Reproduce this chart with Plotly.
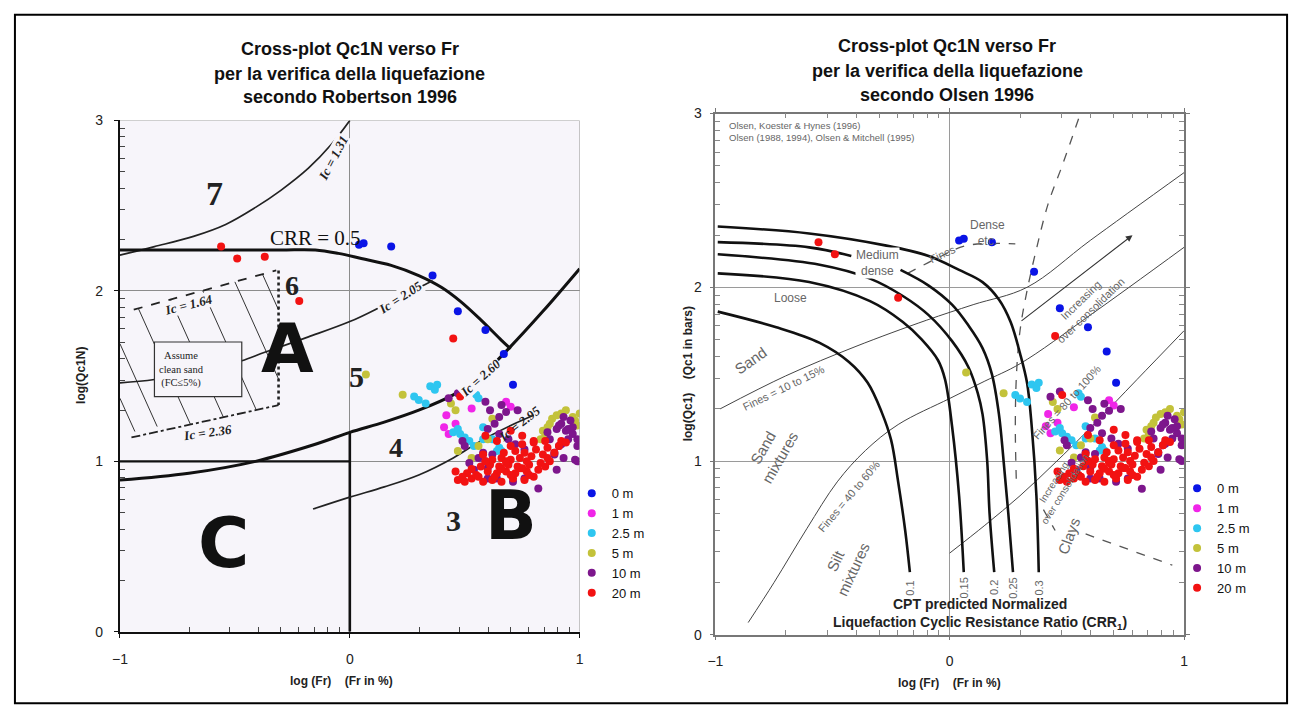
import numpy as np
import plotly.graph_objects as go

W, H = 1298, 718
SANS = "Liberation Sans, Arial, sans-serif"
SERIF = "Liberation Serif, Times New Roman, serif"

# ---------------- measured points (log Fr , log Qc1N), same set on both panels ----------------
series_names = ["0 m", "1 m", "2.5 m", "5 m", "10 m", "20 m"]
series_colors = ["#0a14e6", "#f025e8", "#2ec6f0", "#c3c23a", "#7d168c", "#f21212"]

x_0m = [0.04, 0.06, 0.18, 0.36, 0.47, 0.59, 0.67, 0.71]
y_0m = [2.27, 2.28, 2.26, 2.09, 1.88, 1.77, 1.63, 1.45]

x_1m = [0.42, 0.53, 0.43, 0.41, 0.70, 0.68, 0.46]
y_1m = [1.27, 1.31, 1.16, 1.20, 1.32, 1.35, 1.22]

x_25m = [0.28, 0.30, 0.33, 0.35, 0.37, 0.38, 0.45, 0.47, 0.48, 0.50, 0.52, 0.54, 0.55, 0.56, 0.58, 0.58, 0.62, 0.64, 0.65, 0.66]
y_25m = [1.38, 1.36, 1.34, 1.44, 1.42, 1.45, 1.17, 1.19, 1.16, 1.14, 1.12, 1.09, 1.39, 1.37, 1.20, 1.13, 1.13, 1.06, 1.08, 1.06]

x_5m = [0.07, 0.23, 0.44, 0.46, 0.47, 0.53, 0.56, 0.60, 0.62, 0.83, 0.84, 0.85, 0.86, 0.87, 0.88, 0.90, 0.92, 0.97, 0.98, 0.99, 1.00, 0.94]
y_5m = [1.51, 1.39, 1.34, 1.30, 1.06, 1.02, 1.09, 1.13, 1.25, 1.13, 1.18, 1.15, 1.20, 1.22, 1.25, 1.27, 1.28, 1.26, 1.24, 1.21, 1.28, 1.30]

x_10m = [0.43, 0.47, 0.59, 0.61, 0.66, 0.68, 0.73, 0.65, 0.63, 0.60, 0.65, 0.69, 0.72, 0.76,
         0.58, 0.56, 0.52, 0.59, 0.62, 0.49, 0.50, 0.54, 0.60, 0.64, 0.71, 0.76, 0.82, 0.60,
         0.86, 0.87, 0.89, 0.90, 0.91, 0.92, 0.93, 0.94, 0.95, 0.96, 0.97, 0.99, 0.99,
         0.99, 0.95, 0.91, 0.89, 0.93, 0.98, 0.92, 0.90, 0.97]
y_10m = [1.37, 1.40, 1.35, 1.30, 1.33, 1.29, 1.30, 1.26, 1.22, 1.19, 1.16, 1.13, 1.10, 1.07,
         1.05, 1.02, 0.99, 1.00, 1.04, 1.12, 1.09, 0.95, 0.90, 0.90, 0.88, 0.90, 0.84, 0.96,
         1.17, 1.13, 1.05, 1.19, 1.09, 1.22, 1.26, 1.18, 1.19, 1.24, 1.16, 1.13, 1.09,
         1.00, 1.13, 1.21, 1.04, 1.02, 1.01, 1.10, 0.95, 1.20]

x_20m = [-0.56, -0.49, -0.37, -0.22, 0.45, 0.48,
         0.47, 0.50, 0.53, 0.58, 0.62, 0.66, 0.71, 0.76, 0.80,
         0.46, 0.51, 0.55, 0.60, 0.64, 0.68, 0.72, 0.77, 0.82,
         0.57, 0.61, 0.65, 0.69, 0.73, 0.78, 0.83, 0.87,
         0.62, 0.66, 0.70, 0.74, 0.79, 0.84, 0.89,
         0.67, 0.72, 0.76, 0.81, 0.86, 0.91,
         0.70, 0.75, 0.80, 0.85, 0.92,
         0.59, 0.64, 0.70, 0.75, 0.80, 0.94, 0.58, 0.68, 0.74,
         0.49, 0.56, 0.63, 0.70, 0.78, 0.53, 0.66, 0.75, 0.85, 0.59, 0.68, 0.77, 0.86]
y_20m = [2.26, 2.19, 2.20, 1.94, 1.72, 1.38,
         0.89, 0.88, 0.90, 0.88, 0.89, 0.88, 0.90, 0.89, 0.91,
         0.94, 0.93, 0.92, 0.94, 0.93, 0.94, 0.93, 0.94, 0.95,
         0.97, 0.98, 0.97, 0.98, 0.97, 0.98, 0.99, 1.00,
         1.01, 1.02, 1.01, 1.02, 1.03, 1.04, 1.05,
         1.05, 1.06, 1.05, 1.07, 1.08, 1.09,
         1.09, 1.10, 1.11, 1.12, 1.12,
         1.15, 1.12, 1.18, 1.15, 1.12, 1.11, 1.04, 1.00, 0.96,
         0.91, 0.91, 0.91, 0.92, 0.92, 0.955, 0.955, 0.96, 0.97, 1.00, 0.99, 1.00, 1.02]

series_x = [x_0m, x_1m, x_25m, x_5m, x_10m, x_20m]
series_y = [y_0m, y_1m, y_25m, y_5m, y_10m, y_20m]

# ---------------- Robertson (1996) chart lines ----------------
rob_ic131_x = [-1.0, -0.85, -0.68, -0.54, -0.41, -0.30, -0.18, -0.08, 0.0]
rob_ic131_y = [2.21, 2.26, 2.32, 2.39, 2.49, 2.59, 2.72, 2.86, 3.0]
rob_crr05_x = [-1.0, -0.6, -0.3, -0.15, -0.05, 0.05, 0.18, 0.30, 0.40, 0.48, 0.57, 0.66, 0.70]
rob_crr05_y = [2.24, 2.24, 2.24, 2.24, 2.22, 2.19, 2.15, 2.09, 2.02, 1.94, 1.83, 1.71, 1.66]
rob_ic205_x = [-1.0, -0.85, -0.6, -0.47, -0.37, -0.18, 0.0, 0.11, 0.22, 0.30, 0.36]
rob_ic205_y = [1.46, 1.48, 1.54, 1.59, 1.64, 1.73, 1.82, 1.89, 1.97, 2.02, 2.06]
rob_ic260_x = [-1.0, -0.7, -0.41, -0.15, 0.0, 0.15, 0.30, 0.45, 0.57, 0.69, 0.84, 1.0]
rob_ic260_y = [0.89, 0.93, 1.0, 1.10, 1.17, 1.23, 1.30, 1.39, 1.50, 1.66, 1.88, 2.13]
rob_ic295_x = [-0.16, 0.0, 0.15, 0.30, 0.45, 0.57, 0.70, 0.80]
rob_ic295_y = [0.72, 0.79, 0.85, 0.92, 1.02, 1.12, 1.21, 1.27]
rob_ic164_x = [-0.94, -0.32]
rob_ic164_y = [1.89, 2.12]
rob_ic236_x = [-0.95, -0.31]
rob_ic236_y = [1.14, 1.33]
rob_vdot_x = [-0.31, -0.31]
rob_vdot_y = [2.12, 1.33]
rob_hatch_x = [-1.0, -0.935, None, -1.0, -0.838, None, -0.92, -0.693, None, -0.78, -0.55, None,
               -0.64, -0.407, None, -0.50, -0.31, None, -0.38, -0.31]
rob_hatch_y = [1.37, 1.175, None, 1.69, 1.204, None, 1.897, 1.216, None, 1.949, 1.259, None,
               2.001, 1.302, None, 2.053, 1.483, None, 2.098, 1.888]
rob_base_h_x = [-1.0, 0.0]
rob_base_h_y = [1.0, 1.0]
rob_base_v_x = [0.0, 0.0]
rob_base_v_y = [0.0, 1.17]

# ---------------- Olsen (1996) chart lines ----------------
ols_crr_labels = ["0.1", "0.15", "0.2", "0.25", "0.3"]
ols_crr_x = [
    [-0.99, -0.74, -0.555, -0.43, -0.35, -0.29, -0.25, -0.22, -0.19, -0.17],
    [-0.99, -0.6, -0.34, -0.2, -0.12, -0.05, -0.02, 0.01, 0.04, 0.06],
    [-0.99, -0.555, -0.34, -0.20, -0.09, 0.01, 0.08, 0.12, 0.14, 0.16, 0.17, 0.19],
    [-0.99, -0.6, -0.42, None, -0.21, -0.09, 0.01, 0.08, 0.14, 0.18, 0.21, 0.23, 0.25, 0.27],
    [-0.99, -0.60, -0.27, -0.09, 0.04, 0.14, 0.21, 0.26, 0.30, 0.33, 0.35, 0.37, 0.38],
]
ols_crr_y = [
    [1.86, 1.77, 1.68, 1.57, 1.45, 1.28, 1.12, 0.88, 0.60, 0.36],
    [2.08, 2.03, 1.92, 1.80, 1.70, 1.58, 1.47, 1.20, 0.80, 0.36],
    [2.19, 2.13, 2.05, 1.95, 1.84, 1.69, 1.54, 1.39, 1.27, 1.0, 0.7, 0.36],
    [2.26, 2.23, 2.18, None, 2.10, 2.01, 1.90, 1.78, 1.65, 1.50, 1.27, 1.0, 0.7, 0.36],
    [2.35, 2.31, 2.24, 2.18, 2.10, 2.03, 1.93, 1.80, 1.62, 1.45, 1.20, 0.80, 0.36],
]
ols_f1015_x = [-0.98, -0.7, -0.4, -0.1, 0.1, 0.33, 0.6, 1.0]
ols_f1015_y = [1.30, 1.49, 1.66, 1.81, 1.90, 2.0, 2.27, 2.66]
ols_f4060_x = [-0.86, -0.75, -0.61, -0.48, -0.36, -0.22, 0.0, 0.15, 0.30, 0.60, 1.0]
ols_f4060_y = [0.07, 0.30, 0.61, 0.88, 1.06, 1.21, 1.36, 1.46, 1.56, 1.84, 2.23]
ols_f80_x = [0.0, 0.15, 0.30, 0.45, 0.60, 0.80, 1.0]
ols_f80_y = [0.47, 0.63, 0.80, 0.99, 1.19, 1.47, 1.75]
ols_dashA_x = [0.55, 0.48, 0.42, 0.37, 0.33, 0.30, 0.285, 0.28, 0.285]
ols_dashA_y = [2.97, 2.70, 2.48, 2.22, 1.98, 1.75, 1.50, 1.20, 0.85]
ols_dashB_x = [0.40, 0.45]
ols_dashB_y = [0.72, 0.60]
ols_dashC_x = [0.58, 0.95]
ols_dashC_y = [0.58, 0.40]
ols_dashF_x = [-0.18, -0.05, 0.07, 0.28]
ols_dashF_y = [2.08, 2.17, 2.24, 2.25]

minor_x = [d + np.log10(k) for d in (-1, 0) for k in range(2, 10)]
minor_y = [d + np.log10(k) for d in (0, 1, 2) for k in range(2, 10)]

fig = go.Figure()


def add_line(xs, ys, panel, color, width, dash="solid", shape="spline"):
    xa, ya = ("x", "y") if panel == 1 else ("x2", "y2")
    fig.add_trace(go.Scatter(x=xs, y=ys, xaxis=xa, yaxis=ya, mode="lines",
                             line=dict(color=color, width=width, dash=dash, shape=shape),
                             hoverinfo="skip", showlegend=False, connectgaps=False))


# Robertson panel background lines
add_line(rob_base_h_x, rob_base_h_y, 1, "#111", 2.2, shape="linear")
add_line(rob_base_v_x, rob_base_v_y, 1, "#111", 2.6, shape="linear")
add_line(rob_hatch_x, rob_hatch_y, 1, "#333", 1.0, shape="linear")
add_line(rob_ic131_x, rob_ic131_y, 1, "#222", 1.7)
add_line(rob_crr05_x, rob_crr05_y, 1, "#111", 3.0)
add_line(rob_ic205_x, rob_ic205_y, 1, "#222", 1.7)
add_line(rob_ic260_x, rob_ic260_y, 1, "#111", 3.0)
add_line(rob_ic295_x, rob_ic295_y, 1, "#222", 1.7)
add_line(rob_ic164_x, rob_ic164_y, 1, "#222", 1.8, dash="dash", shape="linear")
add_line(rob_ic236_x, rob_ic236_y, 1, "#222", 1.8, dash="dashdot", shape="linear")
add_line(rob_vdot_x, rob_vdot_y, 1, "#222", 2.6, dash="dot", shape="linear")

# Olsen panel background lines
add_line(ols_f1015_x, ols_f1015_y, 2, "#444", 1.0)
add_line(ols_f4060_x, ols_f4060_y, 2, "#444", 1.0)
add_line(ols_f80_x, ols_f80_y, 2, "#444", 1.0)
add_line(ols_dashA_x, ols_dashA_y, 2, "#555", 1.3, dash="dash")
add_line(ols_dashB_x, ols_dashB_y, 2, "#555", 1.3, dash="dash", shape="linear")
add_line(ols_dashC_x, ols_dashC_y, 2, "#555", 1.3, dash="dash", shape="linear")
add_line(ols_dashF_x, ols_dashF_y, 2, "#555", 1.3, dash="dash")
for cx, cy in zip(ols_crr_x, ols_crr_y):
    add_line(cx, cy, 2, "#111", 2.6)

# measured points
for panel, (xa, ya, lg) in enumerate([("x", "y", "legend"), ("x2", "y2", "legend2")]):
    for name, col, sx, sy in zip(series_names, series_colors, series_x, series_y):
        fig.add_trace(go.Scatter(x=sx, y=sy, xaxis=xa, yaxis=ya, mode="markers", name=name,
                                 legend=lg, marker=dict(color=col, size=8, line=dict(width=0)),
                                 hoverinfo="x+y+name"))

ann = []


def note(text, x, y, ref, size, color="#111", angle=0, family=SANS, xanchor="center",
         yanchor="middle", bg=None):
    xr, yr = ref
    d = dict(text=text, x=x, y=y, xref=xr, yref=yr, showarrow=False, textangle=angle,
             font=dict(size=size, color=color, family=family), xanchor=xanchor, yanchor=yanchor)
    if bg:
        d["bgcolor"] = bg
        d["borderpad"] = 0
    ann.append(d)


P = ("paper", "paper")
R1 = ("x", "y")
R2 = ("x2", "y2")
BG1 = "#f7f5fa"

# titles
for txt, yy in [("Cross-plot Qc1N verso Fr", 42), ("per la verifica della liquefazione", 67),
                ("secondo Robertson 1996", 91)]:
    note("<b>%s</b>" % txt, 345 / W, 1 - yy / H, P, 18, "#111")
for txt, yy in [("Cross-plot Qc1N verso Fr", 39), ("per la verifica della liquefazione", 64),
                ("secondo Olsen 1996", 89)]:
    note("<b>%s</b>" % txt, 948 / W, 1 - yy / H, P, 18, "#111")

# axis titles
note("<b>log (Fr)    (Fr in %)</b>", 337 / W, 1 - 688 / H, P, 12, "#222")
note("<b>log (Fr)    (Fr in %)</b>", 950 / W, 1 - 690 / H, P, 12, "#222")
note("<b>log(Qc1N)</b>", 73 / W, 1 - 376 / H, P, 12, "#222", angle=-90)
note("<b>log(Qc1)    (Qc1 in bars)</b>", 686 / W, 1 - 374 / H, P, 12, "#222", angle=-90)

# Robertson labels
note("<b>7</b>", -0.59, 2.57, R1, 34, "#222", family=SERIF)
note("<b>6</b>", -0.25, 2.03, R1, 28, "#222", family=SERIF)
note("<b>5</b>", 0.03, 1.50, R1, 30, "#222", family=SERIF)
note("<b>4</b>", 0.20, 1.08, R1, 28, "#222", family=SERIF)
note("<b>3</b>", 0.45, 0.65, R1, 30, "#222", family=SERIF)
note("CRR = 0.5", -0.15, 2.31, R1, 21, "#111", family=SERIF)
note("<b>A</b>", -0.27, 1.66, R1, 68, "#111", family="DejaVu Sans, sans-serif")
note("<b>B</b>", 0.70, 0.68, R1, 68, "#111", family="DejaVu Sans, sans-serif")
note("<b>C</b>", -0.55, 0.52, R1, 70, "#111", family="DejaVu Sans, sans-serif")
note("<b><i>Ic = 1.31</i></b>", -0.07, 2.78, R1, 13, "#222", angle=-62, family=SERIF, bg=BG1)
note("<b><i>Ic = 2.05</i></b>", 0.22, 1.96, R1, 13, "#222", angle=-33, family=SERIF, bg=BG1)
note("<b><i>Ic = 2.60</i></b>", 0.57, 1.49, R1, 13, "#222", angle=-42, family=SERIF, bg=BG1)
note("<b><i>Ic = 2.95</i></b>", 0.74, 1.22, R1, 13, "#222", angle=-38, family=SERIF)
note("<b><i>Ic = 1.64</i></b>", -0.70, 1.92, R1, 13, "#222", angle=-14, family=SERIF, bg=BG1)
note("<b><i>Ic = 2.36</i></b>", -0.62, 1.17, R1, 13, "#222", angle=-8, family=SERIF, bg=BG1)
note("Assume<br>clean sand<br>(FC≤5%)", -0.84, 1.54, R1, 10.5, "#222", family=SERIF,
     xanchor="left")

# Olsen labels
G = "#666"
note("Olsen, Koester & Hynes (1996)", -0.95, 2.93, R2, 9.5, G, xanchor="left")
note("Olsen (1988, 1994), Olsen & Mitchell (1995)", -0.95, 2.86, R2, 9.5, G, xanchor="left")
note("Dense<br>etc.", 0.16, 2.31, R2, 12, G)
note("Fines", -0.03, 2.19, R2, 11, G, angle=-25)
note("Medium<br>dense", -0.31, 2.14, R2, 12, G, bg="white")
note("Loose", -0.68, 1.94, R2, 12, G)
note("Sand", -0.85, 1.58, R2, 15, G, angle=-35)
note("Fines = 10 to 15%", -0.71, 1.42, R2, 11, G, angle=-26)
note("Sand<br>mixtures", -0.76, 1.05, R2, 15, G, angle=-60)
note("Fines = 40 to 60%", -0.43, 0.80, R2, 11, G, angle=-50)
note("Silt<br>mixtures", -0.45, 0.40, R2, 15, G, angle=-65)
note("Clays", 0.51, 0.57, R2, 15, G, angle=-70)
note("Fines = 80 to 100%", 0.50, 1.34, R2, 11, G, angle=-48)
note("Increasing<br>over consolidation", 0.58, 1.90, R2, 11, G, angle=-44)
note("Increasing<br>over consolidation", 0.47, 0.86, R2, 10, G, angle=-58)
for lab, cx in zip(ols_crr_labels, ols_crr_x):
    note(lab, cx[-1], 0.27, R2, 11, G, angle=-90)
note("<b>CPT predicted Normalized</b>", 0.13, 0.175, R2, 14, "#222")
note("<b>Liquefaction Cyclic Resistance Ratio (CRR<sub>1</sub>)</b>", 0.13, 0.065, R2, 14, "#222")
ann.append(dict(x=0.78, y=2.30, ax=0.30, ay=1.80, xref="x2", yref="y2", axref="x2", ayref="y2",
                text="", showarrow=True, arrowhead=2, arrowsize=1.2, arrowwidth=1.1,
                arrowcolor="#333"))

shapes = [
    dict(type="rect", xref="x", yref="y", x0=-1, x1=1, y0=0, y1=3, fillcolor=BG1,
         line=dict(width=0), layer="below"),
    dict(type="line", xref="x", yref="y", x0=-1, x1=1, y0=3, y1=3,
         line=dict(color="#999", width=1)),
    dict(type="line", xref="x", yref="y", x0=1, x1=1, y0=0, y1=3,
         line=dict(color="#999", width=1)),
    dict(type="rect", xref="x", yref="y", x0=-0.85, x1=-0.47, y0=1.38, y1=1.70,
         fillcolor=BG1, line=dict(color="#333", width=1.2), layer="above"),
    dict(type="rect", xref="paper", yref="paper", x0=7 / W, x1=1291 / W, y0=1 - 711 / H,
         y1=1 - 7 / H, line=dict(color="#000", width=2)),
]

TICKFONT = dict(size=14, color="#222", family=SANS)

fig.update_layout(
    width=W, height=H, margin=dict(l=0, r=0, t=0, b=0),
    paper_bgcolor="white", plot_bgcolor="white",
    font=dict(family=SANS, size=13, color="#222"),
    annotations=ann, shapes=shapes,
    xaxis=dict(domain=[113 / W, 577 / W], anchor="y", range=[-1, 1], tickvals=[-1, 0, 1],
               showgrid=True, gridwidth=1, zeroline=False, tickfont=TICKFONT,
               gridcolor="#8c8c8c", showline=True, linecolor="#111", linewidth=2,
               ticks="outside", ticklen=4, tickcolor="#111", ticklabelstandoff=9,
               minor=dict(tickmode="array", tickvals=minor_x, ticks="inside", ticklen=5,
                          tickcolor="#444", showgrid=False)),
    yaxis=dict(domain=[1 - 638 / H, 1 - 115 / H], anchor="x", range=[0, 3], tickvals=[0, 1, 2, 3],
               showgrid=True, gridwidth=1, zeroline=False, tickfont=TICKFONT,
               gridcolor="#8c8c8c", showline=True, linecolor="#111", linewidth=2,
               ticks="outside", ticklen=4, tickcolor="#111", ticklabelstandoff=8,
               minor=dict(tickmode="array", tickvals=minor_y, ticks="inside", ticklen=5,
                          tickcolor="#444", showgrid=False)),
    xaxis2=dict(domain=[714 / W, 1187 / W], anchor="y2", range=[-1, 1], tickvals=[-1, 0, 1],
                showgrid=True, gridwidth=1, zeroline=False, tickfont=TICKFONT,
                gridcolor="#9a9a9a", showline=True, linecolor="#777", linewidth=1.5, mirror="ticks",
                ticks="outside", ticklen=4, tickcolor="#777", ticklabelstandoff=9,
                minor=dict(tickmode="array", tickvals=minor_x, ticks="inside", ticklen=5,
                           tickcolor="#888", showgrid=False)),
    yaxis2=dict(domain=[1 - 641 / H, 1 - 108 / H], anchor="x2", range=[0, 3], tickvals=[0, 1, 2, 3],
                showgrid=True, gridwidth=1, zeroline=False, tickfont=TICKFONT,
                gridcolor="#9a9a9a", showline=True, linecolor="#777", linewidth=1.5, mirror="ticks",
                ticks="outside", ticklen=4, tickcolor="#777", ticklabelstandoff=5,
                minor=dict(tickmode="array", tickvals=minor_y, ticks="inside", ticklen=5,
                           tickcolor="#888", showgrid=False)),
    legend=dict(x=569 / W, y=1 - 481 / H, xanchor="left", yanchor="top", bgcolor="rgba(0,0,0,0)",
                font=dict(size=13, family=SANS, color="#111"), tracegroupgap=0),
    legend2=dict(x=1180 / W, y=1 - 476 / H, xanchor="left", yanchor="top", bgcolor="rgba(0,0,0,0)",
                 font=dict(size=13, family=SANS, color="#111"), tracegroupgap=0),
)

fig.write_html("out.html")
